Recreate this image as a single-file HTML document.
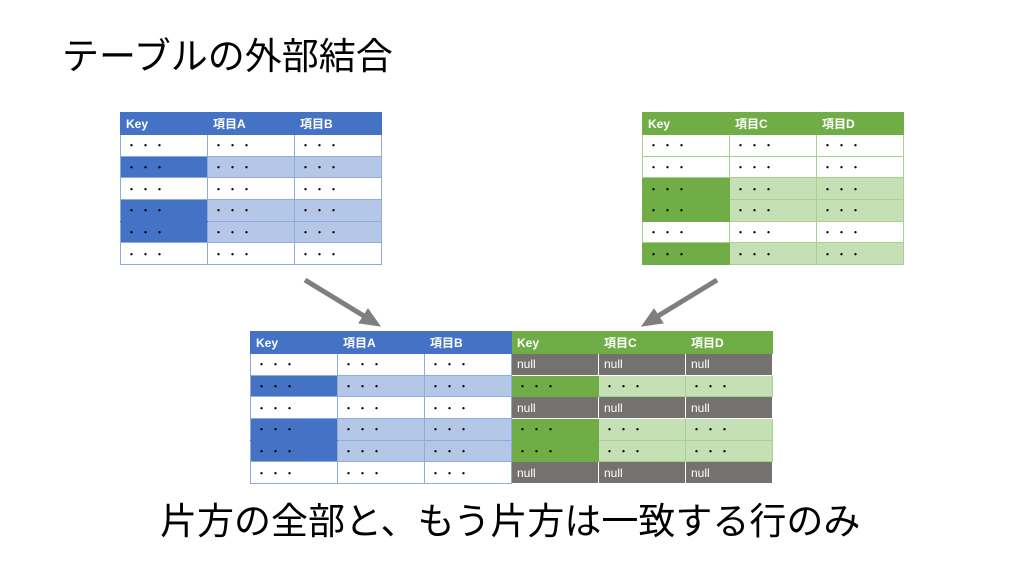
<!DOCTYPE html>
<html><head><meta charset="utf-8"><style>
body{margin:0;width:1024px;height:576px;background:#fff;position:relative;overflow:hidden;font-family:"Liberation Sans","Noto Sans CJK JP",sans-serif}
.t{position:absolute;font-size:37px;color:#000;white-space:nowrap;line-height:1}
table{position:absolute;border-collapse:collapse;table-layout:fixed;font-size:11px}
td{width:87px;height:21.67px;padding:0 0 0 5px;box-sizing:border-box;border:1px solid #8faadc;color:#000;letter-spacing:3px;white-space:nowrap;overflow:hidden}
tr.h td{height:22px;color:#fff;font-weight:bold;letter-spacing:0;font-size:12px;background:#4472c4;border-color:#4472c4}
.w{background:#fff}.b{background:#4472c4}.lb{background:#b4c7e7}
.g td{border-color:#a9d18e}
tr.h td.gh{background:#70ad47;border-color:#70ad47}
.gg{background:#70ad47;border-color:#70ad47!important}.lg{background:#c5e0b4;border-color:#a9d18e!important}
.n{background:#767171;color:#fff;letter-spacing:0;font-size:12px;border-color:#fff!important}
</style></head><body>
<div class="t" style="left:62px;top:38px">テーブルの外部結合</div>
<div class="t" style="left:160px;top:503px">片方の全部と、もう片方は一致する行のみ</div>

<table style="left:120px;top:112px">
<tr class="h"><td>Key</td><td>項目A</td><td>項目B</td></tr>
<tr><td class="w">・・・</td><td class="w">・・・</td><td class="w">・・・</td></tr>
<tr><td class="b">・・・</td><td class="lb">・・・</td><td class="lb">・・・</td></tr>
<tr><td class="w">・・・</td><td class="w">・・・</td><td class="w">・・・</td></tr>
<tr><td class="b" style="border-bottom-color:#4472c4">・・・</td><td class="lb">・・・</td><td class="lb">・・・</td></tr>
<tr><td class="b">・・・</td><td class="lb">・・・</td><td class="lb">・・・</td></tr>
<tr><td class="w">・・・</td><td class="w">・・・</td><td class="w">・・・</td></tr>
</table>

<table class="g" style="left:642px;top:112px">
<tr class="h"><td class="gh">Key</td><td class="gh">項目C</td><td class="gh">項目D</td></tr>
<tr><td class="w">・・・</td><td class="w">・・・</td><td class="w">・・・</td></tr>
<tr><td class="w">・・・</td><td class="w">・・・</td><td class="w">・・・</td></tr>
<tr><td class="gg">・・・</td><td class="lg">・・・</td><td class="lg">・・・</td></tr>
<tr><td class="gg">・・・</td><td class="lg">・・・</td><td class="lg">・・・</td></tr>
<tr><td class="w">・・・</td><td class="w">・・・</td><td class="w">・・・</td></tr>
<tr><td class="gg">・・・</td><td class="lg">・・・</td><td class="lg">・・・</td></tr>
</table>

<table style="left:250px;top:331px">
<tr class="h"><td>Key</td><td>項目A</td><td>項目B</td><td class="gh">Key</td><td class="gh">項目C</td><td class="gh">項目D</td></tr>
<tr><td class="w">・・・</td><td class="w">・・・</td><td class="w">・・・</td><td class="n">null</td><td class="n">null</td><td class="n">null</td></tr>
<tr><td class="b">・・・</td><td class="lb">・・・</td><td class="lb">・・・</td><td class="gg">・・・</td><td class="lg">・・・</td><td class="lg">・・・</td></tr>
<tr><td class="w">・・・</td><td class="w">・・・</td><td class="w">・・・</td><td class="n">null</td><td class="n">null</td><td class="n">null</td></tr>
<tr><td class="b" style="border-bottom-color:#4472c4">・・・</td><td class="lb">・・・</td><td class="lb">・・・</td><td class="gg">・・・</td><td class="lg">・・・</td><td class="lg">・・・</td></tr>
<tr><td class="b">・・・</td><td class="lb">・・・</td><td class="lb">・・・</td><td class="gg">・・・</td><td class="lg">・・・</td><td class="lg">・・・</td></tr>
<tr><td class="w">・・・</td><td class="w">・・・</td><td class="w">・・・</td><td class="n">null</td><td class="n">null</td><td class="n">null</td></tr>
</table>

<svg width="1024" height="576" style="position:absolute;left:0;top:0">
<g stroke="#7f7f7f" stroke-width="5" fill="#7f7f7f">
<line x1="305" y1="280" x2="364" y2="316"/>
<polygon points="380,326 359,323 368,309" stroke-width="1"/>
<line x1="717" y1="280" x2="658" y2="316"/>
<polygon points="642,326 663,323 654,309" stroke-width="1"/>
</g></svg>
</body></html>
